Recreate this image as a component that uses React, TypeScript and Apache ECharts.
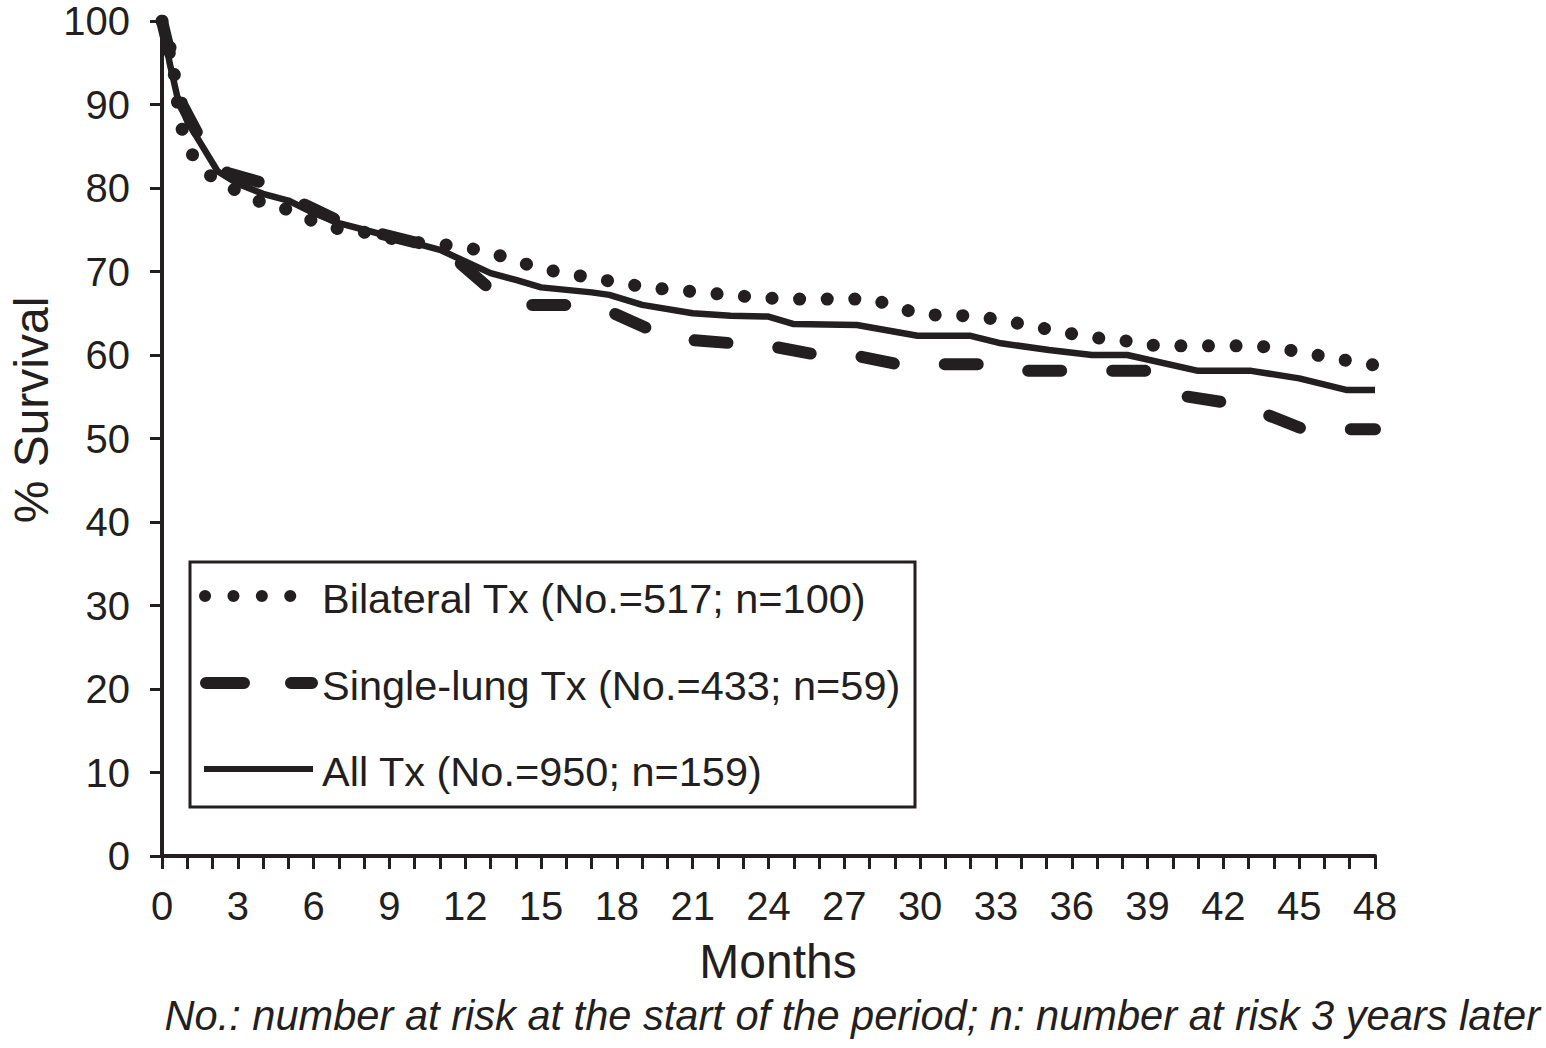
import React, { useEffect, useRef } from "react";
import * as echarts from "echarts";

const INK = "#231f20";

const monthTicks = [0, 3, 6, 9, 12, 15, 18, 21, 24, 27, 30, 33, 36, 39, 42, 45, 48];

const seriesNames = [
  "Bilateral Tx (No.=517; n=100)",
  "Single-lung Tx (No.=433; n=59)",
  "All Tx (No.=950; n=159)",
];

const bilateral: [number, number][] = [
  [0, 100], [0.4, 96], [0.6, 90.5], [0.8, 87], [1.2, 84], [2, 81.2], [3, 79.6], [4, 78.2],
  [5, 77.4], [6, 76], [7, 75.1], [8, 74.7], [9, 74], [10, 73.5], [11.5, 73.1], [12.7, 72.5],
  [13.7, 71.6], [14.8, 70.5], [15.9, 69.8], [16.9, 69.3], [18, 68.7], [19.2, 68.1], [20.2, 67.8],
  [21.4, 67.5], [22.4, 67.2], [23.5, 66.9], [24.7, 66.7], [28.1, 66.7], [29.1, 65.7], [30.1, 64.8],
  [31.2, 64.8], [32.3, 64.6], [33.4, 64.1], [34.5, 63.4], [35.6, 62.8], [36.7, 62.1], [37.8, 61.9],
  [38.9, 61.2], [40, 61.1], [43.3, 61.1], [44.4, 60.7], [45.5, 60.1], [46.6, 59.5], [47.7, 58.9],
  [48, 58.8],
];

const singleLung: [number, number][] = [
  [0, 100], [0.4, 95], [0.8, 90], [1.5, 86], [2.3, 82.5], [2.6, 81.8], [4, 80.6], [5.5, 78.2],
  [6.9, 76.2], [8, 75], [10, 73.5], [11.8, 71], [12.9, 68.1], [14.5, 66], [16.2, 66], [17.8, 65.1],
  [19.2, 63.2], [20.9, 61.8], [22.6, 61.4], [24.2, 61], [25.8, 60.1], [27.5, 59.9], [29.1, 58.9],
  [32.4, 58.9], [34, 58.1], [39.1, 58.1], [40.4, 55.1], [42.1, 54.3], [43.6, 53], [45.1, 51.2],
  [46.7, 51.1], [48, 51.1],
];

const allTx: [number, number][] = [
  [0, 100], [0.3, 95], [0.6, 91], [1, 88], [1.5, 85.5], [2.2, 82], [3, 80.5], [4, 79.3], [5, 78.5],
  [6, 77], [7, 75.8], [8, 75], [9, 74.2], [10, 73.4], [11, 72.6], [12, 71.2], [13, 69.8], [14, 69],
  [15, 68.1], [17, 67.5], [17.7, 67.2], [19, 66], [21, 65], [22.5, 64.7], [24, 64.6], [25, 63.7],
  [27.5, 63.6], [29.9, 62.3], [32, 62.3], [33.2, 61.4], [35.1, 60.6], [36.8, 60], [38.2, 60],
  [41, 58.1], [43.1, 58.1], [45, 57.2], [46.9, 55.8], [48, 55.8],
];

const xAxisTitle = "Months";
const yAxisTitle = "% Survival";
const footnote = "No.: number at risk at the start of the period; n: number at risk 3 years later";

export default function App() {
  const ref = useRef<HTMLDivElement>(null);

  useEffect(() => {
    if (!ref.current) return;
    const chart = echarts.init(ref.current, undefined, { renderer: "svg" });
    const font = "'Liberation Sans', Arial, Helvetica, sans-serif";

    const legendRows = [
      { y: 596, name: seriesNames[0], style: { lineWidth: 12, lineDash: [0.1, 28.3], lineCap: "round" }, x1: 205, x2: 292 },
      { y: 683, name: seriesNames[1], style: { lineWidth: 12, lineDash: [38, 47], lineCap: "round" }, x1: 206, x2: 312 },
      { y: 769, name: seriesNames[2], style: { lineWidth: 6, lineCap: "butt" }, x1: 204, x2: 313 },
    ];

    const graphics: any[] = [
      {
        type: "rect",
        shape: { x: 190, y: 562, width: 725, height: 245 },
        style: { fill: "#fff", stroke: INK, lineWidth: 3 },
        z: 10,
      },
      {
        type: "text",
        x: 1540,
        y: 1015,
        style: {
          text: footnote,
          fill: INK,
          font: `italic 41.6px ${font}`,
          textAlign: "right",
          textVerticalAlign: "middle",
        },
      },
      {
        type: "text",
        x: 778,
        y: 961,
        style: {
          text: xAxisTitle,
          fill: INK,
          font: `48px ${font}`,
          textAlign: "center",
          textVerticalAlign: "middle",
        },
      },
      {
        type: "text",
        x: 31,
        y: 410,
        rotation: Math.PI / 2,
        style: {
          text: yAxisTitle,
          fill: INK,
          font: `48px ${font}`,
          textAlign: "center",
          textVerticalAlign: "middle",
        },
      },
    ];
    legendRows.forEach((r) => {
      graphics.push({
        type: "line",
        shape: { x1: r.x1, y1: r.y, x2: r.x2, y2: r.y },
        style: { stroke: INK, ...r.style },
        z: 11,
      });
      graphics.push({
        type: "text",
        x: 322,
        y: r.y + 2,
        style: {
          text: r.name,
          fill: INK,
          font: `41.5px ${font}`,
          textAlign: "left",
          textVerticalAlign: "middle",
        },
        z: 11,
      });
    });

    chart.setOption({
      animation: false,
      backgroundColor: "#fff",
      textStyle: { fontFamily: font, color: INK },
      grid: { left: 162, right: 171, top: 21, bottom: 192, containLabel: false },
      xAxis: {
        type: "value",
        min: 0,
        max: 48,
        interval: 1,
        axisLine: { show: true, lineStyle: { color: INK, width: 4 } },
        axisTick: { show: true, inside: false, length: 13, lineStyle: { color: INK, width: 3 } },
        axisLabel: {
          fontSize: 40,
          color: INK,
          margin: 30,
          fontFamily: font,
          formatter: (v: number) => (monthTicks.includes(v) ? String(v) : ""),
        },
        splitLine: { show: false },
      },
      yAxis: {
        type: "value",
        min: 0,
        max: 100,
        interval: 10,
        axisLine: { show: true, lineStyle: { color: INK, width: 4 } },
        axisTick: { show: true, inside: false, length: 12, lineStyle: { color: INK, width: 3 } },
        axisLabel: { fontSize: 40, color: INK, margin: 32, fontFamily: font },
        splitLine: { show: false },
      },
      series: [
        {
          name: seriesNames[0],
          type: "line",
          data: bilateral,
          showSymbol: false,
          symbol: "none",
          lineStyle: { color: INK, width: 13, type: [0.1, 27.5], cap: "round" },
          z: 3,
        },
        {
          name: seriesNames[1],
          type: "line",
          data: singleLung,
          showSymbol: false,
          symbol: "none",
          lineStyle: { color: INK, width: 12, type: [33, 51], cap: "round" },
          z: 2,
        },
        {
          name: seriesNames[2],
          type: "line",
          data: allTx,
          showSymbol: false,
          symbol: "none",
          lineStyle: { color: INK, width: 6.5, type: "solid", join: "round" },
          z: 4,
        },
      ],
      graphic: graphics,
    });

    return () => chart.dispose();
  }, []);

  return (
    <div
      ref={ref}
      style={{ position: "fixed", left: 0, top: 0, width: 1546, height: 1048, background: "#fff" }}
    />
  );
}
